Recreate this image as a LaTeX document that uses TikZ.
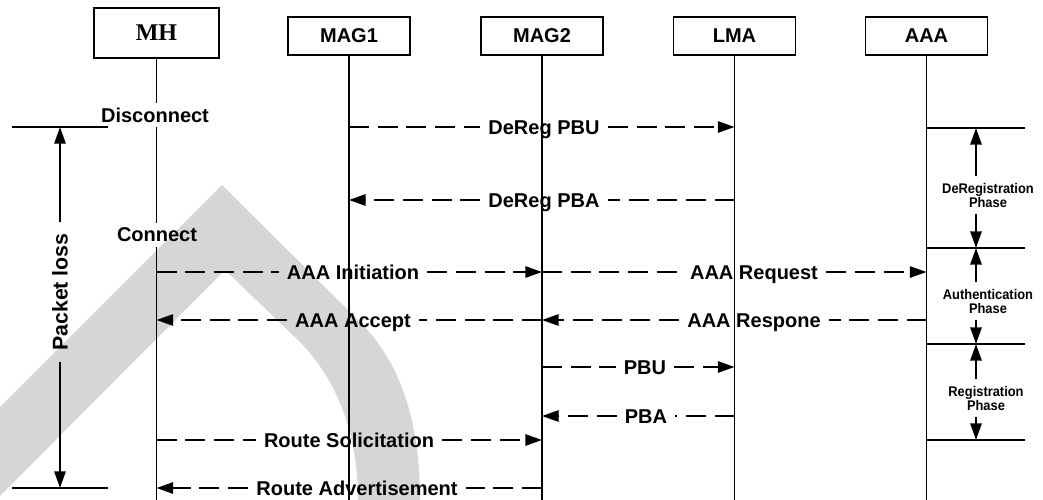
\documentclass[tikz,border=0pt]{standalone}
\usepackage{fontspec}
\setmainfont{Liberation Sans}
\newfontfamily\mhfont{Liberation Serif}
\newfontfamily\phasefont[FakeStretch=0.92]{Liberation Sans}
\usetikzlibrary{arrows.meta}
\definecolor{wm}{RGB}{214,214,214}
\begin{document}
\begin{tikzpicture}[x=0.75pt,y=-0.75pt,
  every node/.style={font=\bfseries\fontsize{15}{18}\selectfont},
  ln/.style={line width=1.4pt},
  msg/.style={line width=1.4pt, dash pattern=on 15pt off 6.5pt},
  tip/.style={-{Triangle[length=12.5pt,width=8.5pt]}},
  box/.style={draw, line width=1.4pt, minimum width=91.5pt, minimum height=28.5pt, inner sep=0pt},
  lbl/.style={inner xsep=6pt, inner ysep=0pt, anchor=base},
  ph/.style={font=\phasefont\bfseries\fontsize{10.5}{10.5}\selectfont, align=center, inner sep=5pt}
]
\useasboundingbox (0,0) rectangle (1043,500);

% watermark band
\fill[wm] (0,407) -- (222,185) -- (360,322) .. controls (400,362) and (420,420) .. (420,500)
  -- (358,500) .. controls (358,430) and (335,378) .. (300,342) -- (225,270) -- (0,496) -- cycle;

% boxes
\node[box, minimum width=93.75pt, minimum height=37.5pt, font=\mhfont\bfseries\fontsize{18}{20}\selectfont] (mh) at (156.5,33) {MH};
\node[box] (mag1) at (349,36) {MAG1};
\node[box] (mag2) at (542,36) {MAG2};
\node[box] (lma) at (734.5,36) {LMA};
\node[box] (aaa) at (926.5,36) {AAA};

% MH events
\node (disc) at (155,115) {Disconnect};
\node (conn) at (157,235) {Connect};

% lifelines
\draw[ln] (mh.south) -- (mh.south |- disc.north);
\draw[ln] (mh.south |- disc.south) -- (mh.south |- conn.north);
\draw[ln] (mh.south |- conn.south) -- (mh.south |- 0,500);
\draw[ln] (mag1.south) -- (mag1.south |- 0,500);
\draw[ln] (mag2.south) -- (mag2.south |- 0,500);
\draw[ln] (lma.south) -- (lma.south |- 0,500);
\draw[ln] (aaa.south) -- (aaa.south |- 0,500);

% messages
\node[lbl] (l1) at (544,134) {DeReg PBU};
\draw[msg] (mag1 |- 0,127) -- (l1.west |- 0,127);
\draw[msg,tip] (l1.east |- 0,127) -- (lma |- 0,127);

\node[lbl] (l2) at (544,207) {DeReg PBA};
\draw[msg] (lma |- 0,200) -- (l2.east |- 0,200);
\draw[msg,tip] (l2.west |- 0,200) -- (mag1 |- 0,200);

\node[lbl] (l3) at (353,279) {AAA Initiation};
\draw[msg] (mh |- 0,272) -- (l3.west |- 0,272);
\draw[msg,tip] (l3.east |- 0,272) -- (mag2 |- 0,272);

\node[lbl] (l4) at (754,279) {AAA Request};
\draw[msg] (mag2 |- 0,272) -- (l4.west |- 0,272);
\draw[msg,tip] (l4.east |- 0,272) -- (aaa |- 0,272);

\node[lbl] (l5) at (353,327) {AAA Accept};
\draw[msg] (mag2 |- 0,320) -- (l5.east |- 0,320);
\draw[msg,tip] (l5.west |- 0,320) -- (mh |- 0,320);

\node[lbl] (l6) at (754,327) {AAA Respone};
\draw[msg] (aaa |- 0,320) -- (l6.east |- 0,320);
\draw[msg,tip] (l6.west |- 0,320) -- (mag2 |- 0,320);

\node[lbl] (l7) at (645,374) {PBU};
\draw[msg] (mag2 |- 0,367) -- (l7.west |- 0,367);
\draw[msg,tip] (l7.east |- 0,367) -- (lma |- 0,367);

\node[lbl] (l8) at (646,423) {PBA};
\draw[msg] (lma |- 0,416) -- (l8.east |- 0,416);
\draw[msg,tip] (l8.west |- 0,416) -- (mag2 |- 0,416);

\node[lbl] (l9) at (349,447) {Route Solicitation};
\draw[msg] (mh |- 0,440) -- (l9.west |- 0,440);
\draw[msg,tip] (l9.east |- 0,440) -- (mag2 |- 0,440);

\node[lbl] (l10) at (357,495) {Route Advertisement};
\draw[msg] (mag2 |- 0,488) -- (l10.east |- 0,488);
\draw[msg,tip] (l10.west |- 0,488) -- (mh |- 0,488);

% packet loss
\coordinate (pla) at (12,127); \coordinate (plb) at (108,127);
\coordinate (plc) at (12,488); \coordinate (pld) at (108,488);
\coordinate (pltop) at (60,127); \coordinate (plbot) at (60,488);
\draw[ln] (pla) -- (plb);
\draw[ln] (plc) -- (pld);
\node[rotate=90, font=\bfseries\fontsize{16}{18}\selectfont, inner xsep=8pt] (pl) at (60,292) {Packet loss};
\draw[ln,tip] (pl.east) -- (pltop);
\draw[ln,tip] (pl.west) -- (plbot);

% phases
\coordinate (pe1) at (1025,128); \coordinate (pe2) at (1025,248);
\coordinate (pe3) at (1025,344); \coordinate (pe4) at (1025,440);
\draw[ln] (aaa |- pe1) -- (pe1);
\draw[ln] (aaa |- pe2) -- (pe2);
\draw[ln] (aaa |- pe3) -- (pe3);
\draw[ln] (aaa |- pe4) -- (pe4);
\coordinate (a1) at (976,128); \coordinate (a2) at (976,248);
\coordinate (a3) at (976,344); \coordinate (a4) at (976,440);

\node[ph] (ph1) at (988,195) {DeRegistration\\Phase};
\draw[ln,tip] (a1 |- ph1.north) -- (a1);
\draw[ln,tip] (a1 |- ph1.south) -- (a2);

\node[ph] (ph2) at (988,301) {Authentication\\Phase};
\draw[ln,tip] (a2 |- ph2.north) -- (a2);
\draw[ln,tip] (a2 |- ph2.south) -- (a3);

\node[ph] (ph3) at (986,398) {Registration\\Phase};
\draw[ln,tip] (a3 |- ph3.north) -- (a3);
\draw[ln,tip] (a3 |- ph3.south) -- (a4);
\end{tikzpicture}
\end{document}
